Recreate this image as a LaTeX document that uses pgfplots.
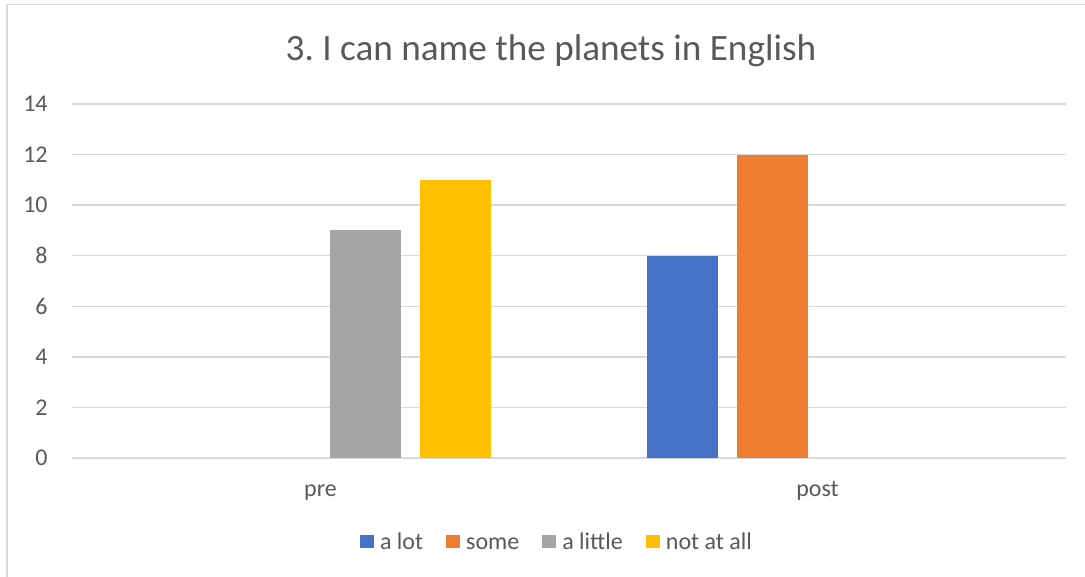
\documentclass[border=0pt]{standalone}
\usepackage{fontspec}
\setmainfont{Carlito}
\usepackage{pgfplots}
\pgfplotsset{compat=1.18}

\definecolor{txt}{HTML}{595959}
\definecolor{gridc}{HTML}{D9D9D9}
\definecolor{cblue}{HTML}{4472C4}
\definecolor{corange}{HTML}{ED7D31}
\definecolor{cgray}{HTML}{A5A5A5}
\definecolor{cyellow}{HTML}{FFC000}

\begin{document}
\begin{tikzpicture}
% picture frame: 1 px of the reference = 0.5pt, origin at the lower left of the plot area
\useasboundingbox (-36pt,-59.5pt) rectangle (506.5pt,229pt);
\draw[gridc, line width=0.75pt] (-32.5pt,-59.5pt) -- (-32.5pt,226.75pt) -- (506.5pt,226.75pt);

\begin{axis}[
    at={(0pt,0pt)}, anchor=south west,
    scale only axis,
    width=497pt, height=177pt,
    ybar=9.5pt,
    bar width=35.5pt,
    xmin=-0.5, xmax=1.5,
    ymin=0, ymax=14,
    xtick={0,1},
    xticklabels={pre,post},
    ytick={0,2,...,14},
    ymajorgrids,
    grid style={gridc, line width=0.65pt},
    axis line style={draw=none},
    major tick length=0pt,
    unbounded coords=discard,
    y filter/.expression={y==0 ? nan : y},
    /pgf/number format/assume math mode=true,
    tick label style={font=\fontsize{12}{14}\selectfont, text=txt},
    yticklabel style={anchor=east, inner sep=0pt, xshift=-12pt},
    xticklabel style={anchor=base, inner sep=0pt, yshift=-19.5pt},
    title={3.\ I can name the planets in English},
    title style={at={(0.4819,1.09)}, anchor=base, inner sep=0pt,
        font=\fontsize{18.6}{22}\selectfont, text=txt},
    legend columns=-1,
    legend style={at={(0.4869,-0.236)}, anchor=center, draw=none, fill=none,
        font=\fontsize{12}{14}\selectfont, text=txt, inner sep=0pt,
        nodes={inner sep=0pt},
        /tikz/every odd column/.append style={column sep=3pt},
        /tikz/every even column/.append style={column sep=11.5pt}},
    legend image code/.code={\fill[#1] (0pt,-3.4pt) rectangle (7pt,3.4pt);},
    enlargelimits=false,
]
\addplot[fill=cblue, draw=none] coordinates {(0,0) (1,8)};
\addplot[fill=corange, draw=none] coordinates {(0,0) (1,12)};
\addplot[fill=cgray, draw=none] coordinates {(0,9) (1,0)};
\addplot[fill=cyellow, draw=none] coordinates {(0,11) (1,0)};
\legend{\strut a lot,\strut some,\strut a little,\strut not at all}
\end{axis}
\end{tikzpicture}
\end{document}
